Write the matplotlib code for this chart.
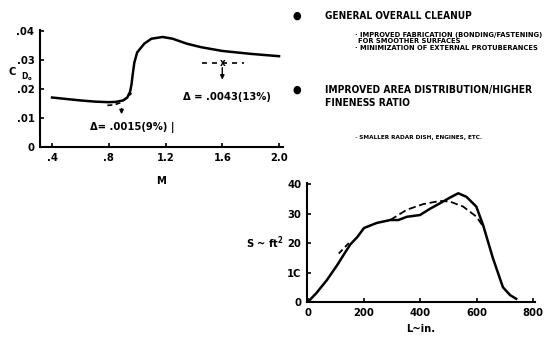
import matplotlib.pyplot as plt

plt.rcParams['font.family'] = ['DejaVu Sans']
plt.rcParams['font.weight'] = 'bold'
plt.rcParams['font.stretch'] = 'condensed'
plt.rcParams['axes.labelweight'] = 'bold'

# drag coefficient vs Mach number
mach = [0.4, 0.5, 0.6, 0.7, 0.8, 0.85, 0.9, 0.93, 0.95, 0.96, 0.97, 0.98, 1.0, 1.05, 1.1, 1.18, 1.25, 1.35, 1.45, 1.6, 1.8, 2.0]
cd0 = [0.0170, 0.0165, 0.0160, 0.0156, 0.0154, 0.0155, 0.0160, 0.0170, 0.0190, 0.0215, 0.0255, 0.0290, 0.0325, 0.0355, 0.0372, 0.0378, 0.0372, 0.0355, 0.0343, 0.0330, 0.0320, 0.0312]
mach_dash_lo = [0.79, 0.84, 0.88, 0.92, 0.96]
cd0_dash_lo = [0.0143, 0.0145, 0.0152, 0.0165, 0.0185]
mach_dash_hi = [1.46, 1.75]
cd0_dash_hi = [0.0287, 0.0287]

# area distribution
length = [0, 30, 68, 104, 127, 151, 175, 200, 245, 293, 322, 352, 399, 434, 470, 505, 535, 564, 599, 623, 658, 694, 720, 741]
area = [0, 3.0, 7.5, 12.5, 16.0, 19.6, 22.0, 25.2, 26.9, 27.9, 27.9, 29.0, 29.6, 31.7, 33.6, 35.5, 37.0, 35.8, 32.5, 26.3, 15.0, 5.0, 2.3, 1.1]
length_dash = [293, 352, 410, 470, 505, 552, 599, 623]
area_dash = [27.9, 31.4, 33.3, 34.4, 34.2, 32.5, 29.1, 25.8]

fig = plt.figure(figsize=(5.46, 3.38), dpi=100)

ax1 = fig.add_axes([40/546, 1-147/338, 243/546, 117/338])
ax1.plot(mach, cd0, color='black', lw=1.8)
ax1.plot(mach_dash_lo, cd0_dash_lo, color='black', lw=1.2, ls=(0, (3, 2)))
ax1.plot(mach_dash_hi, cd0_dash_hi, color='black', lw=1.2, ls=(0, (3, 3)))
ax1.text(1.6, 0.0287, 'x', ha='center', va='center', fontsize=7)
ax1.annotate('', xy=(0.89, 0.0103), xytext=(0.89, 0.0142),
             arrowprops=dict(arrowstyle='-|>', color='black', lw=1, mutation_scale=6))
ax1.annotate('', xy=(1.6, 0.0222), xytext=(1.6, 0.0282),
             arrowprops=dict(arrowstyle='-|>', color='black', lw=1, mutation_scale=6))
ax1.text(0.668, 0.0068, '\u0394= .0015(9%) |', fontsize=8, va='center')
ax1.text(1.323, 0.0171, '\u0394 = .0043(13%)', fontsize=8, va='center')
ax1.set_xlim(0.315, 2.028)
ax1.set_ylim(0, 0.0402)
ax1.set_xticks([0.4, 0.8, 1.2, 1.6, 2.0])
ax1.set_xticklabels(['.4', '.8', '1.2', '1.6', '2.0'])
ax1.set_yticks([0, 0.01, 0.02, 0.03, 0.04])
ax1.set_yticklabels(['0', '.01', '.02', '.03', '.04'])
ax1.set_xlabel('M', fontsize=8, labelpad=10)
ax1.text(-0.128, 0.64, 'C', transform=ax1.transAxes, fontsize=8, va='center')
ax1.text(-0.078, 0.6, 'D$_\\mathregular{o}$', transform=ax1.transAxes, fontsize=6, va='center')

ax2 = fig.add_axes([307/546, 1-302/338, 228/546, 119/338])
ax2.plot(length, area, color='black', lw=1.8)
ax2.plot(length_dash, area_dash, color='black', lw=1.3, ls=(0, (4, 2)))
ax2.plot([110, 150], [16.5, 20.5], color='black', lw=1.3, ls=(0, (3, 2)))
ax2.set_xlim(-3, 808)
ax2.set_ylim(0, 40.5)
ax2.set_xticks([0, 200, 400, 600, 800])
ax2.set_yticks([0, 10, 20, 30, 40])
ax2.set_yticklabels(['0', '1C', '20', '30', '40'])
ax2.set_xlabel('L~in.', fontsize=8, labelpad=5)
ax2.set_ylabel('S ~ ft$^\\mathregular{2}$', fontsize=8, rotation=0, labelpad=16, va='center')

for ax in (ax1, ax2):
    for s in ('top', 'right'):
        ax.spines[s].set_visible(False)
    for s in ('left', 'bottom'):
        ax.spines[s].set_linewidth(1.5)
    ax.tick_params(direction='in', length=3, width=1.2, labelsize=8, pad=4)

# bullet notes
fig.text(297/546, 1-16/338, '\u25cf', fontsize=8, ha='center', va='center')
fig.text(325/546, 1-16/338, 'GENERAL OVERALL CLEANUP', fontsize=7.2, va='center')
fig.text(355/546, 1-35/338, '\u00b7 IMPROVED FABRICATION (BONDING/FASTENING)', fontsize=5.4, va='center')
fig.text(358/546, 1-41/338, 'FOR SMOOTHER SURFACES', fontsize=5.4, va='center')
fig.text(355/546, 1-48/338, '\u00b7 MINIMIZATION OF EXTERNAL PROTUBERANCES', fontsize=5.4, va='center')
fig.text(297/546, 1-90/338, '\u25cf', fontsize=8, ha='center', va='center')
fig.text(325/546, 1-90/338, 'IMPROVED AREA DISTRIBUTION/HIGHER', fontsize=7.4, va='center')
fig.text(325/546, 1-103/338, 'FINENESS RATIO', fontsize=7.4, va='center')
fig.text(355/546, 1-137/338, '\u00b7 SMALLER RADAR DISH, ENGINES, ETC.', fontsize=4.6, va='center')

plt.savefig('out.png', dpi=100)
